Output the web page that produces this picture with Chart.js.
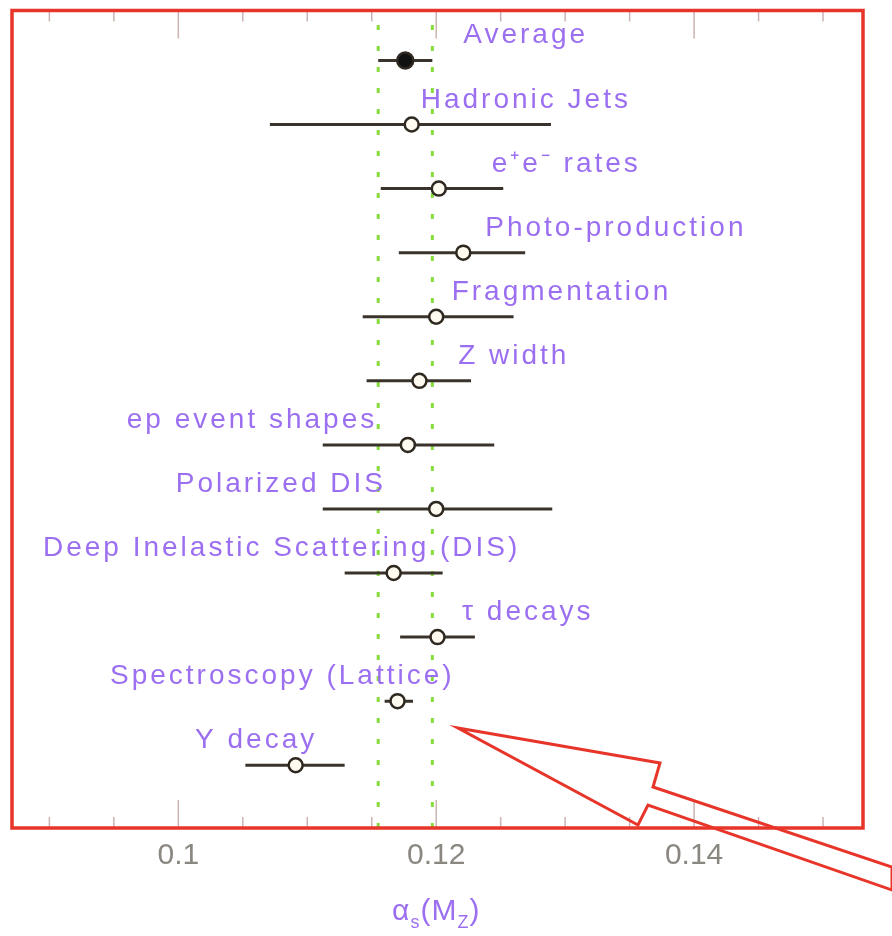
<!DOCTYPE html>
<html>
<head>
<meta charset="utf-8">
<script src="https://cdn.jsdelivr.net/npm/chart.js@4.4.1/dist/chart.umd.min.js"></script>
<style>
  body { margin: 0; background: #fff; }
  #wrap { width: 892px; height: 936px; }
</style>
</head>
<body>
<div id="wrap"><canvas id="chart" width="892" height="936"></canvas></div>
<script>
// alpha_s(M_Z) measurements, top row first
const labels = ['Average', 'Hadronic Jets', 'e\u207Ae\u207B rates', 'Photo-production', 'Fragmentation',
    'Z width', 'ep event shapes', 'Polarized DIS', 'Deep Inelastic Scattering (DIS)', '\u03C4 decays',
    'Spectroscopy (Lattice)', '\u03A5 decay'];
const values = [0.1176, 0.1181, 0.1202, 0.1221, 0.1200, 0.1187, 0.1178, 0.1200, 0.1167, 0.1201, 0.1170, 0.1091];
const lower  = [0.1155, 0.1071, 0.1157, 0.1171, 0.1143, 0.1146, 0.1112, 0.1112, 0.1129, 0.1172, 0.1160, 0.1052];
const upper  = [0.1197, 0.1289, 0.1252, 0.1269, 0.1260, 0.1227, 0.1245, 0.1290, 0.1205, 0.1230, 0.1182, 0.1129];
// where each label text starts, in alpha_s units
const labelAt = [0.1221, 0.1188, 0.1243, 0.1238, 0.1212, 0.1217, 0.0960, 0.0998, 0.0895, 0.1220, 0.0947, 0.1013];
const xTicks = [0.1, 0.12, 0.14];
const minorTicks = [0.09, 0.095, 0.1, 0.105, 0.11, 0.115, 0.12, 0.125, 0.13, 0.135, 0.14, 0.145, 0.15];

const PURPLE = '#9b6ff0';
const RED = '#e8352a';
const BAR = '#3a332b';
const GREEN = '#86dc3c';

const rows = labels.map((l, i) => labels.length - i);
const yMin = 0.02, yMax = 12.78;

let datasets = [];

// average band edges
[lower[0], upper[0]].forEach(function (v) {
    datasets.push({
        type: 'line',
        data: [{x: v, y: yMin}, {x: v, y: yMax}],
        borderColor: GREEN,
        borderWidth: 3,
        borderDash: [5, 16],
        pointRadius: 0,
        order: 3
    });
});

// error bars
labels.forEach(function (l, i) {
    datasets.push({
        type: 'line',
        data: [{x: lower[i], y: rows[i]}, {x: upper[i], y: rows[i]}],
        borderColor: BAR,
        borderWidth: 3,
        pointRadius: 0,
        order: 2
    });
});

datasets.push({
    type: 'scatter',
    data: values.map((v, i) => ({x: v, y: rows[i]})),
    pointRadius: values.map((v, i) => i === 0 ? 8 : 7),
    pointBackgroundColor: values.map((v, i) => i === 0 ? '#111' : '#fffaf0'),
    pointBorderColor: '#2e2820',
    pointBorderWidth: 2.5,
    order: 1
});

const decor = {
    id: 'decor',
    afterDatasetsDraw(chart) {
        const ctx = chart.ctx;
        const a = chart.chartArea;
        const xs = chart.scales.x;
        const ys = chart.scales.y;
        ctx.save();

        // inward ticks
        ctx.strokeStyle = 'rgba(190,160,160,0.8)';
        ctx.lineWidth = 1.5;
        minorTicks.forEach(function (v) {
            const px = xs.getPixelForValue(v);
            const major = xTicks.some(t => Math.abs(t - v) < 1e-9);
            const len = major ? 28 : 11;
            ctx.beginPath();
            ctx.moveTo(px, a.top); ctx.lineTo(px, a.top + len);
            ctx.moveTo(px, a.bottom); ctx.lineTo(px, a.bottom - len);
            ctx.stroke();
        });

        // frame
        ctx.strokeStyle = RED;
        ctx.lineWidth = 3.5;
        ctx.strokeRect(a.left, a.top, a.right - a.left, a.bottom - a.top);

        // labels
        ctx.fillStyle = PURPLE;
        ctx.font = '28px "Liberation Sans", Arial, sans-serif';
        ctx.letterSpacing = '3px';
        ctx.textBaseline = 'alphabetic';
        labels.forEach(function (l, i) {
            ctx.fillText(l, xs.getPixelForValue(labelAt[i]), ys.getPixelForValue(rows[i]) - 17);
        });

        // axis title alpha_s(M_Z)
        ctx.letterSpacing = '1px';
        const parts = [['\u03B1', 0, 30], ['s', 8, 18], ['(M', 0, 30], ['Z', 8, 18], [')', 0, 30]];
        let total = 0;
        parts.forEach(function (p) {
            ctx.font = p[2] + 'px "Liberation Sans", Arial, sans-serif';
            total += ctx.measureText(p[0]).width;
        });
        let tx = xs.getPixelForValue(0.12) - total / 2;
        const ty = a.bottom + 92;
        parts.forEach(function (p) {
            ctx.font = p[2] + 'px "Liberation Sans", Arial, sans-serif';
            ctx.fillText(p[0], tx, ty + p[1]);
            tx += ctx.measureText(p[0]).width;
        });

        // hollow arrow pointing at the lattice result
        const tipX = a.left + 446, tipY = a.bottom - 100;
        const pts = [[0, 0], [202, 35], [195, 59], [434, 139], [434, 162], [190, 77], [180, 97]];
        ctx.strokeStyle = RED;
        ctx.lineWidth = 3;
        ctx.lineJoin = 'miter';
        ctx.beginPath();
        pts.forEach(function (p, k) {
            if (k === 0) ctx.moveTo(tipX + p[0], tipY + p[1]);
            else ctx.lineTo(tipX + p[0], tipY + p[1]);
        });
        ctx.closePath();
        ctx.stroke();
        ctx.restore();
    }
};

new Chart(document.getElementById('chart'), {
    type: 'scatter',
    data: {datasets: datasets},
    options: {
        responsive: false,
        animation: false,
        layout: {padding: {left: 12, right: 29, top: 10, bottom: 52}},
        plugins: {legend: {display: false}, tooltip: {enabled: false}},
        scales: {
            x: {
                type: 'linear',
                min: 0.0871,
                max: 0.1531,
                afterBuildTicks: function (scale) {
                    scale.ticks = xTicks.map(v => ({value: v}));
                },
                ticks: {
                    color: '#8a8680',
                    padding: 10,
                    font: {family: '"Liberation Sans", Arial, sans-serif', size: 30},
                    callback: v => String(v)
                },
                grid: {display: false, drawTicks: false},
                border: {display: false}
            },
            y: {
                type: 'linear',
                display: false,
                min: yMin,
                max: yMax
            }
        }
    },
    plugins: [decor]
});
</script>
</body>
</html>
